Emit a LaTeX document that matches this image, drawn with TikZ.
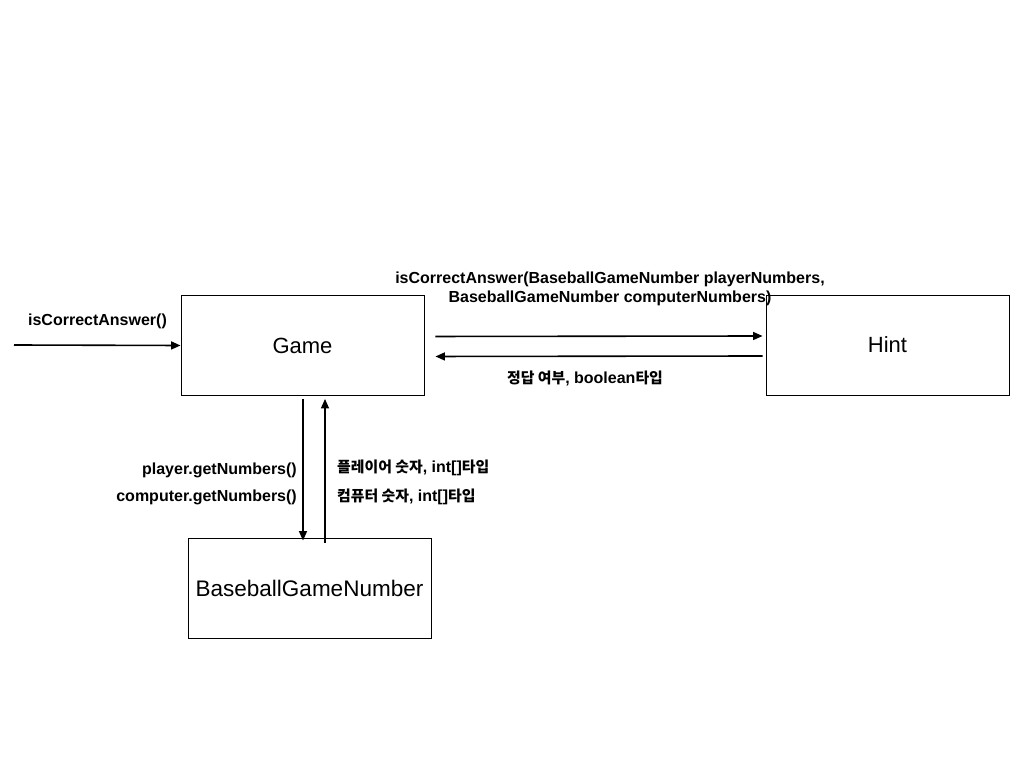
\documentclass[tikz,border=0pt]{standalone}
\usepackage{fontspec}
\setmainfont{Liberation Sans}
\newfontfamily\kr{Noto Sans CJK KR}[Scale=0.93]
\usetikzlibrary{arrows.meta}

\begin{document}
\begin{tikzpicture}[x=1pt, y=1pt]
	\tikzstyle{box} = [draw, line width=0.9pt, minimum width=243pt, minimum height=100pt, inner sep=0pt, font=\fontsize{22}{24}\selectfont]
	\tikzstyle{lbl} = [inner sep=0pt, align=center, font=\fontsize{16}{19}\selectfont\bfseries]
	\tikzstyle{msg} = [line width=1.6pt, -{Triangle[length=9.5pt, width=8pt]}]
	\useasboundingbox (0,0) rectangle (1024,768);
	\node[box] (game) at (302.5,422.5) {Game}; \node[box] (hint) at (887.5,423) {Hint}; \node[box, font=\fontsize{22.5}{24}\selectfont] (bgn) at (309.5,180) {BaseballGameNumber};
	\coordinate (start) at (14,423);
	
	\node[lbl] (callL) at (97.5,446.5) {isCorrectAnswer()}; \node[lbl] (callH) at (610,479) {isCorrectAnswer(BaseballGameNumber playerNumbers,\\BaseballGameNumber computerNumbers)}; \node[lbl] (retH) at (585,389.5) {{\kr 정답 여부}, boolean{\kr 타입}};
	\node[lbl, anchor=east] (getP) at (297,297.5) {player.getNumbers()}; \node[lbl, anchor=east] (getC) at (297,270.5) {computer.getNumbers()}; \node[lbl, anchor=west] (retP) at (337,300.5) {{\kr 플레이어 숫자}, int[]{\kr 타입}}; \node[lbl, anchor=west] (retC) at (337,271.5) {{\kr 컴퓨터 숫자}, int[]{\kr 타입}};
	
	\draw[msg] (start) -- (game.west); \draw[msg, shorten <=11pt, shorten >=3pt] ([yshift=9pt]game.east) -- ([yshift=9pt]hint.west); \draw[msg, shorten <=3pt, shorten >=11pt] ([yshift=-11pt]hint.west) -- ([yshift=-11pt]game.east);
	\draw[msg, shorten <=3pt, shorten >=-3pt] ([xshift=0.5pt]game.south) -- ([xshift=0.5pt]game.south |- bgn.north); \draw[msg, shorten <=-5pt, shorten >=3pt] ([xshift=22.5pt]game.south |- bgn.north) -- ([xshift=22.5pt]game.south);
\end{tikzpicture}
\end{document}
